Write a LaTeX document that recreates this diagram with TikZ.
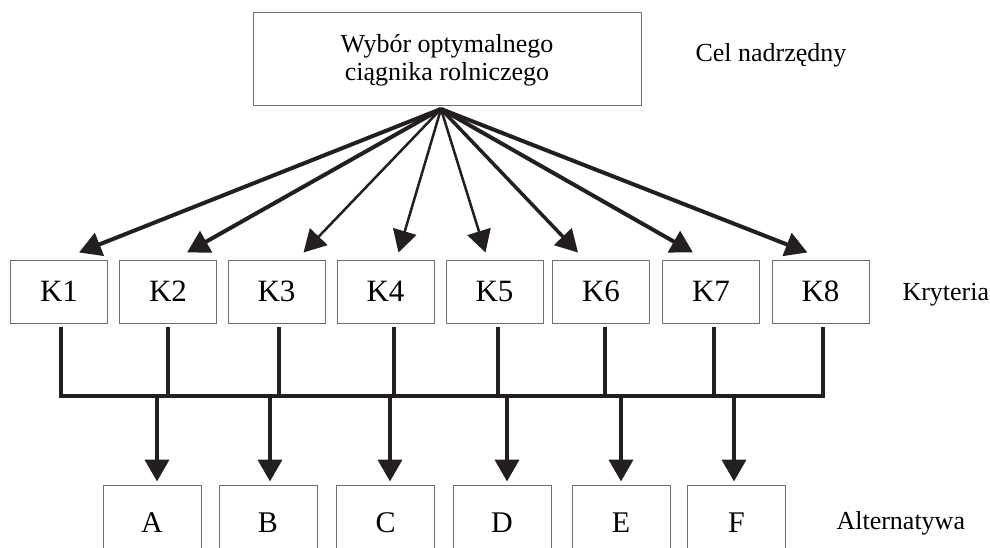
\documentclass[tikz,border=0pt]{standalone}
\usepackage{fontspec}
\setmainfont{Liberation Serif}
\usetikzlibrary{arrows.meta}
\definecolor{ink}{RGB}{35,31,32}
\definecolor{frame}{RGB}{110,110,110}

\begin{document}
\begin{tikzpicture}[x=1pt,y=-1pt,
    box/.style={draw=frame, line width=1pt, inner sep=0pt},
    kbox/.style={box, minimum width=97pt, minimum height=63pt, font=\fontsize{31}{31}\selectfont},
    altbox/.style={box, minimum width=98pt, minimum height=76pt, font=\fontsize{30}{30}\selectfont},
    side/.style={anchor=west, font=\fontsize{26}{26}\selectfont},
    arr/.style={draw=ink, line width=#1, -{Triangle[length=22pt,width=24pt]}},
    arr/.default=4pt,
    bus/.style={draw=ink, line width=4pt}]
\clip (0,0) rectangle (990,548); % picture frame

% goal
\node[box, minimum width=388pt, minimum height=93pt, align=center,
      font=\fontsize{26}{28}\selectfont] (goal) at (447,59.5)
      {\strut Wybór optymalnego\\ciągnika rolniczego};
\node[side] (goallabel) at (692,55) {Cel nadrzędny};
\coordinate (hub) at (441,109); % where the arrows meet

% criteria
\foreach \x [count=\i] in {59,168,276.5,385.5,494.5,601,711,820.5}
{
\node[kbox] (K\i) at (\x,291.5) {K\i};
}
\node[side] (critlabel) at (899,295) {Kryteria};

\foreach \i/\dx/\w in {1/20/4pt, 2/19/4pt, 3/27/2.5pt, 4/13/2.5pt,
                       5/-9/2.5pt, 6/-23/3.5pt, 7/-18/4pt, 8/-13/4pt}
{
\draw[arr=\w] (hub) -- ([xshift=\dx pt, yshift=7pt]K\i.north);
}

% collecting line
\coordinate (busL) at (61,396);
\coordinate (busR) at (823,396);
\draw[bus] ([xshift=2pt, yshift=-3pt]K1.south) -- (busL) -- (busR)
           -- ([xshift=2.5pt, yshift=-3pt]K8.south);
\foreach \i/\dx in {2/0, 3/2.5, 4/8.5, 5/3.5, 6/4, 7/3}
{
\draw[bus] ([xshift=\dx pt, yshift=-3pt]K\i.south) -- ([xshift=\dx pt]K\i.south |- busL);
}

% alternatives
\foreach \a/\x/\dx in {A/152/5, B/268/2, C/385.5/4.5, D/502/5, E/621/0, F/736.5/-2.5}
{
\node[altbox] (\a) at (\x,523) {\a};
\draw[arr] ([xshift=\dx pt]\a.north |- busL) -- ([xshift=\dx pt, yshift=3pt]\a.north);
}
\node[side] (altlabel) at (833,523) {Alternatywa};
\end{tikzpicture}
\end{document}
